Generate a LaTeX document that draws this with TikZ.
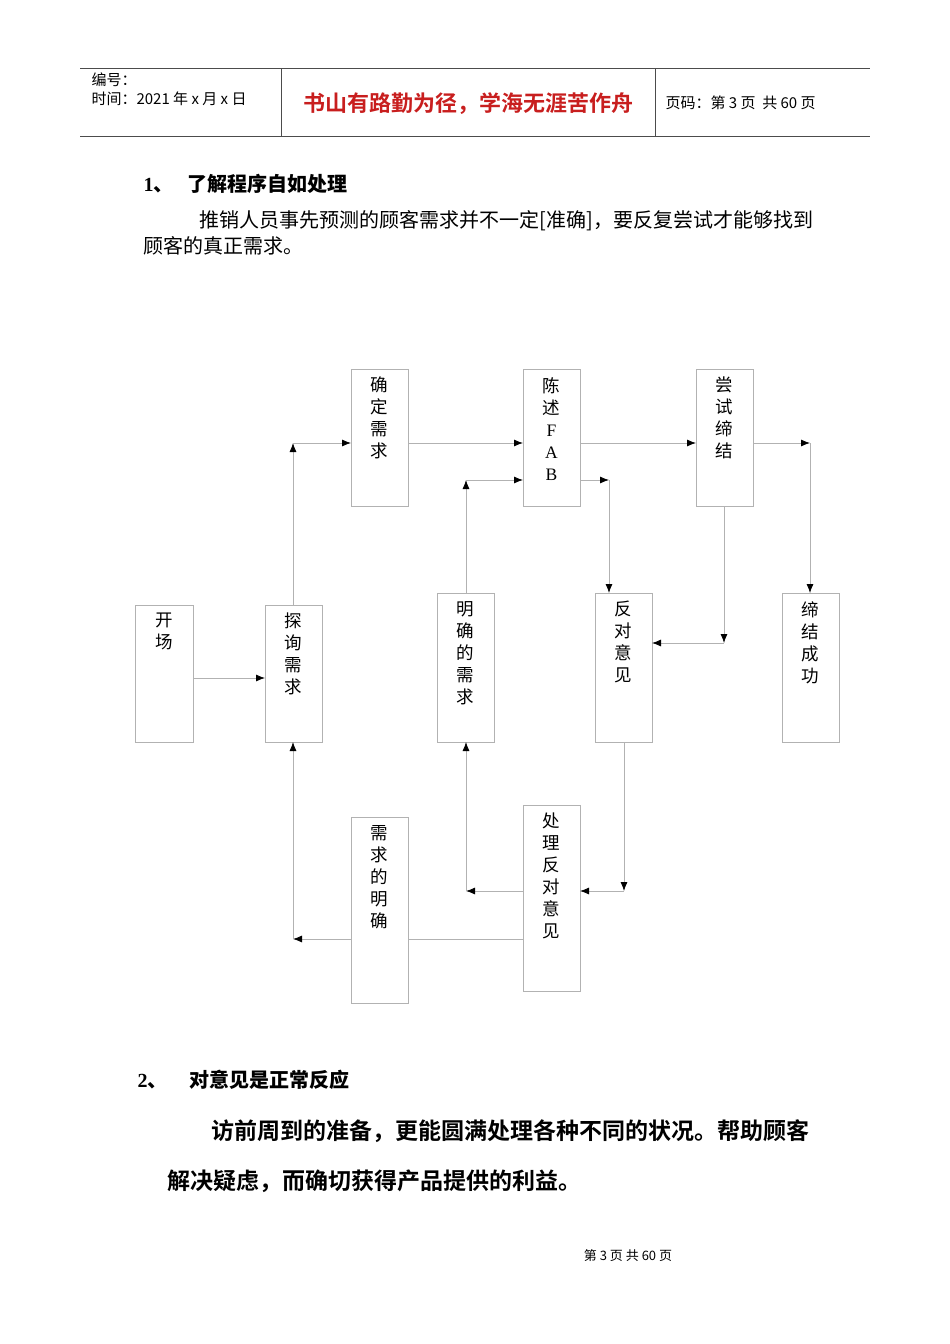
\documentclass[tikz,border=0pt]{standalone}
\usepackage{fontspec}
\setmainfont{Liberation Serif}
\newfontfamily\cjk{Noto Sans CJK SC}
\newfontfamily\cjkb{Noto Sans CJK SC Bold}
\usetikzlibrary{arrows.meta}
\begin{document}
\begin{tikzpicture}[x=1pt,y=-1pt,
  bx/.style={draw=gray!60,line width=0.8pt},
  lbl/.style={anchor=north,align=center,font=\cjk\fontsize{17.5}{22}\selectfont,inner sep=0pt},
  cn/.style={draw=gray!60,line width=0.8pt},
  ar/.style={cn,-{Latex[black,length=9pt,width=7pt]}}]
\useasboundingbox (0,0) rectangle (950,1344);
% header
\draw[black!70,line width=0.8pt] (80,68) -- (870,68) (80,136) -- (870,136) (281,68) -- (281,136) (655,68) -- (655,136);
\node[anchor=west,font=\cjk\fontsize{15}{15}\selectfont] (h1) at (88,80) {编号：};
\node[anchor=west,font=\cjk\fontsize{15}{15}\selectfont] (h2) at (88,99) {时间：2021 年 x 月 x 日};
\node[font=\cjkb\fontsize{22}{22}\selectfont,text={rgb,255:red,200;green,30;blue,30}] (h3) at (468,104) {书山有路勤为径，学海无涯苦作舟};
\node[anchor=west,font=\cjk\fontsize{15}{15}\selectfont] (h4) at (662,103) {页码：第 3 页\ \ 共 60 页};
% text
\node[anchor=west,font=\fontsize{20}{20}\selectfont\bfseries] (t1) at (140,184) {1{\cjk 、}\hspace{14pt}{\cjkb 了解程序自如处理}};
\node[anchor=west,font=\cjk\fontsize{20}{20}\selectfont] (t2) at (196,221) {推销人员事先预测的顾客需求并不一定[准确]，要反复尝试才能够找到};
\node[anchor=west,font=\cjk\fontsize{20}{20}\selectfont] (t3) at (140,246) {顾客的真正需求。};
\node[anchor=west,font=\fontsize{20}{20}\selectfont\bfseries] (t4) at (134,1080) {2{\cjk 、}\hspace{22pt}{\cjkb 对意见是正常反应}};
\node[anchor=west,font=\cjkb\fontsize{23}{23}\selectfont] (t5) at (208,1131) {访前周到的准备，更能圆满处理各种不同的状况。帮助顾客};
\node[anchor=west,font=\cjkb\fontsize{23}{23}\selectfont] (t6) at (164,1181) {解决疑虑，而确切获得产品提供的利益。};
\node[font=\cjk\fontsize{13}{13}\selectfont] (f) at (628,1256) {第 3 页 共 60 页};
% boxes
\draw[bx] (135,605) rectangle (193,742); \node[lbl] (a) at (164,613) {开\\场};
\draw[bx] (265,605) rectangle (322,742); \node[lbl] (b) at (293.5,613) {探\\询\\需\\求};
\draw[bx] (351,369) rectangle (408,506); \node[lbl] (c) at (379.5,377) {确\\定\\需\\求};
\draw[bx] (523,369) rectangle (580,506); \node[lbl] (d) at (551.5,377) {陈\\述\\{\rmfamily F}\\{\rmfamily A}\\{\rmfamily B}};
\draw[bx] (696,369) rectangle (753,506); \node[lbl] (e) at (724.5,377) {尝\\试\\缔\\结};
\draw[bx] (437,593) rectangle (494,742); \node[lbl] (g) at (465.5,601) {明\\确\\的\\需\\求};
\draw[bx] (595,593) rectangle (652,742); \node[lbl] (h) at (623.5,601) {反\\对\\意\\见};
\draw[bx] (782,593) rectangle (839,742); \node[lbl] (k) at (810.5,601) {缔\\结\\成\\功};
\draw[bx] (351,817) rectangle (408,1003); \node[lbl] (m) at (379.5,825) {需\\求\\的\\明\\确};
\draw[bx] (523,805) rectangle (580,991); \node[lbl] (n) at (551.5,813) {处\\理\\反\\对\\意\\见};
% connector coordinates
\coordinate (p1) at (193,678); \coordinate (p2) at (265,678);
\coordinate (p3) at (293,605); \coordinate (p4) at (293,443); \coordinate (p5) at (351,443);
\coordinate (p6) at (408,443); \coordinate (p7) at (523,443);
\coordinate (p8) at (580,443); \coordinate (p9) at (696,443);
\coordinate (q1) at (753,443); \coordinate (q2) at (810,443); \coordinate (q3) at (810,593);
\coordinate (q4) at (466,593); \coordinate (q5) at (466,480); \coordinate (q6) at (523,480);
\coordinate (q7) at (580,480); \coordinate (q8) at (609,480); \coordinate (q9) at (609,593);
\coordinate (r1) at (724,506); \coordinate (r2) at (724,643); \coordinate (r3) at (652,643);
\coordinate (r4) at (624,742); \coordinate (r5) at (624,891); \coordinate (r6) at (580,891);
\coordinate (r7) at (523,891); \coordinate (r8) at (466,891); \coordinate (r9) at (466,742);
\coordinate (s1) at (523,939); \coordinate (s2) at (408,939); \coordinate (s3) at (351,939);
\coordinate (s4) at (293,939); \coordinate (s5) at (293,742);
\draw[ar] (p1) -- (p2);
\draw[ar] (p3) -- (p4); \draw[ar] (p4) -- (p5);
\draw[ar] (p6) -- (p7);
\draw[ar] (p8) -- (p9);
\draw[ar] (q1) -- (q2); \draw[ar] (q2) -- (q3);
\draw[ar] (q4) -- (q5); \draw[ar] (q5) -- (q6);
\draw[ar] (q7) -- (q8); \draw[ar] (q8) -- (q9);
\draw[ar] (r1) -- (r2); \draw[ar] (r2) -- (r3);
\draw[ar] (r4) -- (r5); \draw[ar] (r5) -- (r6);
\draw[ar] (r7) -- (r8); \draw[ar] (r8) -- (r9);
\draw[cn] (s1) -- (s2);
\draw[ar] (s3) -- (s4); \draw[ar] (s4) -- (s5);
\end{tikzpicture}
\end{document}
